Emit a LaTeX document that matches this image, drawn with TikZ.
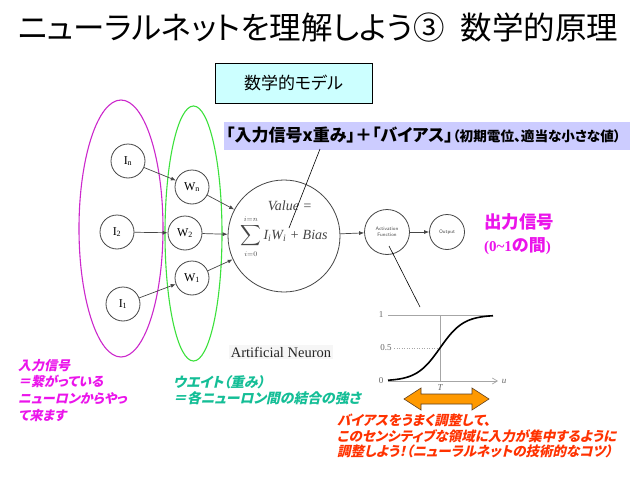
\documentclass[tikz,border=0pt]{standalone}
\usepackage{exscale}
\usepackage{fontspec}
\setmainfont{Liberation Serif}
\newfontfamily\jp[RawFeature=+palt]{Noto Sans CJK JP}
\newfontfamily\jpsl[FakeSlant=0.22,RawFeature=+palt]{Noto Sans CJK JP}
\usetikzlibrary{arrows.meta}
\definecolor{magline}{RGB}{204,40,204}
\definecolor{grnline}{RGB}{60,225,60}
\definecolor{magtext}{RGB}{235,20,235}
\definecolor{tealtext}{RGB}{20,190,150}
\definecolor{redtext}{RGB}{255,50,0}
\definecolor{boxfill}{RGB}{204,255,255}
\definecolor{bannerfill}{RGB}{204,204,255}
\definecolor{arrfill}{RGB}{255,153,0}
\definecolor{neur}{RGB}{70,70,70}
\tikzset{
  neu/.style={circle,draw=neur,line width=0.8pt,inner sep=0pt,fill=white},
  inode/.style={neu,minimum size=34pt,font=\fontsize{12}{12}\selectfont},
  con/.style={draw=neur,line width=0.7pt,-{Latex[length=5pt,width=4pt]}},
  leader/.style={draw=black,line width=0.6pt},
  note/.style={align=left,inner sep=0pt,anchor=north west},
}
\begin{document}
\begin{tikzpicture}[x=1pt,y=-1pt]
\useasboundingbox[fill=white] (0,0) rectangle (638,479);
% title
\node (title) at (318,28) {\jp\fontsize{31.5}{32}\selectfont ニューラルネットを理解しよう③\hspace{16pt}数学的原理};
% model box
\node[draw=black,line width=0.8pt,fill=boxfill,minimum width=157pt,minimum height=40pt,inner sep=0pt] (model) at (293.5,83) {\jp\fontsize{17}{17}\selectfont 数学的モデル};
% banner
\node[fill=bannerfill,minimum width=406pt,minimum height=28pt,inner sep=0pt] (banner) at (427,135.5) {};
\node[anchor=west,inner sep=0pt] (bantext) at (226,135.5) {\jp\bfseries\fontsize{17}{17}\selectfont 「入力信号x重み」＋「バイアス」{\fontsize{13.6}{14}\selectfont（初期電位、適当な小さな値）}};
% ellipses
\draw[magline,line width=1.1pt] (121,228.5) ellipse [x radius=42pt,y radius=128.5pt];
\draw[grnline,line width=1.1pt] (193.5,233.5) ellipse [x radius=28.5pt,y radius=127.5pt];
% neuron nodes
\node[inode] (in) at (128,161) {I\textsubscript{n}};
\node[inode] (i2) at (117,232) {I\textsubscript{2}};
\node[inode] (i1) at (123,304) {I\textsubscript{1}};
\node[inode] (wn) at (192,187) {W\textsubscript{n}};
\node[inode] (w2) at (185,233) {W\textsubscript{2}};
\node[inode] (w1) at (192,278) {W\textsubscript{1}};
\node[neu,minimum size=112pt] (sum) at (284,236) {};
\node[neu,minimum size=45pt,align=center,font=\sffamily\fontsize{5}{6}\selectfont,text=neur] (act) at (387,232) {Activation\\Function};
\node[neu,minimum size=35pt,font=\sffamily\fontsize{5}{6}\selectfont,text=neur] (out) at (447,232) {Output};
\node[text=neur,inner sep=0pt,align=center,font=\fontsize{14}{14}\selectfont] (form) at (284,229) {\hspace{12pt}\itshape Value =\\[4pt]{\fontsize{15}{15}\selectfont$\displaystyle\sum_{\scriptscriptstyle i=0}^{\scriptscriptstyle i=n}$}\,\itshape I\textsubscript{i}W\textsubscript{i} + Bias};
\draw[con] (in) -- (wn);
\draw[con] (i2) -- (w2);
\draw[con] (i1) -- (w1);
\draw[con] (wn) -- (sum);
\draw[con] (w2) -- (sum);
\draw[con] (w1) -- (sum);
\draw[con] (sum) -- (act);
\draw[con] (act) -- (out);
% leader lines
\coordinate (bl) at (320,149);
\coordinate (bl2) at (289,228);
\draw[leader] (bl) -- (bl2);
\coordinate (al) at (389,246);
\coordinate (al2) at (420,307);
\draw[leader] (al) -- (al2);
% artificial neuron
\node[fill=gray!7,inner sep=2pt,text=black!85] (art) at (281,352) {\fontsize{14.5}{15}\selectfont Artificial Neuron};
% output label
\node[anchor=west,inner sep=0pt,text=magtext] (outl1) at (484,222) {\jp\bfseries\fontsize{17.5}{18}\selectfont 出力信号};
\node[anchor=west,inner sep=0pt,text=magtext] (outl2) at (484,246) {\bfseries\fontsize{15}{16}\selectfont (0\char`~1{\jp\fontsize{17}{17}\selectfont の間})};
% sigmoid graph
\draw[gray!70,line width=0.6pt] (388,315) -- (493,315);
\draw[gray!70,line width=0.5pt,dotted] (394,348) -- (440,348);
\draw[gray!70,line width=0.6pt] (440,315) -- (440,381);
\draw[gray!70,line width=0.7pt,-{Straight Barb[length=5pt,width=6pt]}] (388,381) -- (498,381);
\node[text=gray!80!black,font=\fontsize{9}{9}\selectfont\itshape] (ulab) at (504,381) {u};
\node[text=gray!80!black,font=\fontsize{9}{9}\selectfont] (one) at (381,315) {1};
\node[text=gray!80!black,font=\fontsize{9}{9}\selectfont] (half) at (386,348) {0.5};
\node[text=gray!80!black,font=\fontsize{9}{9}\selectfont] (zero) at (381,381) {0};
\node[text=gray!80!black,font=\fontsize{9}{9}\selectfont\itshape] (tlab) at (440,388) {T};
\draw[black,line width=1.6pt,domain=388:493,samples=60,smooth] plot (\x,{381-66/(1+exp(-0.085*(\x-440)))});
% orange double arrow
\draw[draw=brown!50!black,line width=0.6pt,fill=arrfill] (404,399) -- (421,388) -- (421,394) -- (472,394) -- (472,388) -- (489,399) -- (472,410) -- (472,404) -- (421,404) -- (421,410) -- cycle;
% notes
\node[note,text=magtext,font={\jpsl\bfseries\fontsize{13}{16.7}\selectfont}] (n1) at (18,359) {入力信号\\＝繋がっている\\ニューロンからやっ\\て来ます};
\node[note,text=tealtext,font={\jpsl\bfseries\fontsize{13.8}{16.5}\selectfont}] (n2) at (173,375) {ウエイト（重み）\\＝各ニューロン間の結合の強さ};
\node[note,text=redtext,font={\jpsl\bfseries\fontsize{13.5}{15.3}\selectfont}] (n3) at (337,414) {バイアスをうまく調整して、\\このセンシティブな領域に入力が集中するように\\調整しよう！（ニューラルネットの技術的なコツ）};
\end{tikzpicture}
\end{document}
